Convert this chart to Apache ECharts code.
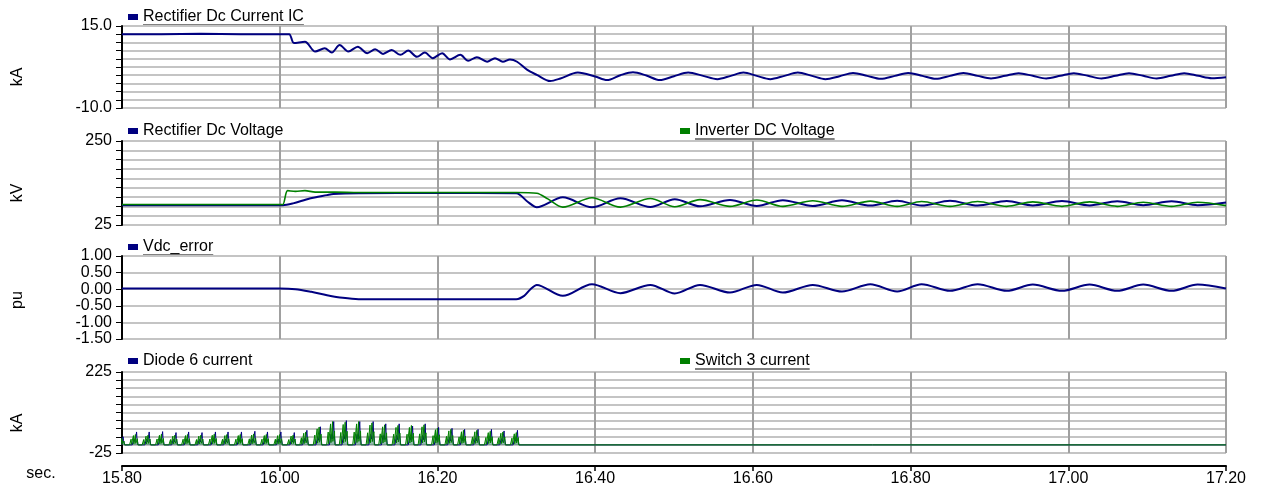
<!DOCTYPE html>
<html><head><meta charset="utf-8">
<script src="https://cdn.jsdelivr.net/npm/echarts@6/dist/echarts.min.js"></script>
<style>html,body{margin:0;padding:0;background:#fff}#c{width:1264px;height:488px}</style>
</head><body><div id="c"></div>
<script>
// ---------- data ----------
const xTickLabels = ['15.80','16.00','16.20','16.40','16.60','16.80','17.00','17.20'];

const icT = [15.80,15.85,15.90,15.95,16.00,16.012,16.018,16.032,16.045,16.057,16.066,16.076,16.087,16.099,16.111,16.121,16.131,16.142,16.153,16.163,16.174,16.184,16.194,16.206,16.216,16.229,16.239,16.250,16.263,16.273,16.283,16.292,16.301,16.314,16.326,16.343,16.356,16.378,16.400,16.415,16.432,16.448,16.465,16.482,16.500,16.518,16.537,16.555,16.572,16.588,16.605,16.622,16.640,16.657,16.675,16.692,16.710,16.727,16.745,16.762,16.780,16.797,16.815,16.832,16.850,16.867,16.885,16.902,16.920,16.937,16.955,16.972,16.990,17.007,17.025,17.042,17.060,17.077,17.095,17.112,17.130,17.147,17.165,17.182,17.200];
const icV = [12.5,12.5,12.6,12.5,12.5,12.5,9.8,10.2,7.2,8.2,6.9,9.2,7.2,8.7,6.7,7.9,6.5,7.7,6.2,7.5,5.6,6.9,5.2,6.7,4.8,6.2,4.4,5.5,4.1,5.2,4.1,4.8,4.1,1.6,0.1,-1.8,-1.0,0.8,-0.4,-1.5,0.0,0.9,-0.1,-1.5,-0.3,0.8,-0.2,-1.2,-0.2,0.8,-0.2,-1.2,-0.2,0.8,-0.2,-1.2,-0.3,0.7,-0.2,-1.1,-0.2,0.7,-0.2,-1.1,-0.2,0.7,-0.2,-1.0,-0.2,0.6,-0.2,-1.0,-0.2,0.6,-0.2,-1.0,-0.2,0.6,-0.2,-1.0,-0.2,0.6,-0.2,-0.9,-0.6];

const rvT = [15.80,16.000,16.004,16.017,16.038,16.060,16.068,16.10,16.20,16.300,16.314,16.326,16.359,16.396,16.432,16.470,16.501,16.533,16.571,16.605,16.638,16.676,16.713,16.749,16.783,16.814,16.850,16.885,16.922,16.955,16.992,17.027,17.062,17.095,17.131,17.164,17.200];
const rvV = [78,78,78,83,96,105,108,110,110.5,110,88,72.5,99,72.5,96.5,73,94,75,92,76,91.5,76,91,77,90,77,90,77,89,77.5,89,77.5,88.5,78,88.5,78,85];

const ivT = [15.80,16.000,16.004,16.010,16.020,16.032,16.045,16.070,16.10,16.300,16.326,16.340,16.359,16.396,16.432,16.470,16.501,16.533,16.571,16.605,16.638,16.676,16.713,16.749,16.783,16.814,16.850,16.885,16.922,16.955,16.992,17.027,17.062,17.095,17.131,17.164,17.200];
const ivV = [80,80,80,117,115,117,113,113,112,112,110,95,73,98,73,96,74,93,75,92,75,90,75,89,75,88,75,88,75,87,75,87,75,86,75,86,77];

const veT = [15.80,15.90,16.00,16.02,16.04,16.06,16.08,16.10,16.20,16.300,16.310,16.318,16.326,16.359,16.396,16.432,16.470,16.501,16.533,16.571,16.605,16.638,16.676,16.713,16.749,16.783,16.814,16.850,16.885,16.922,16.955,16.992,17.027,17.062,17.095,17.131,17.164,17.200];
const veV = [0.02,0.02,0.02,0.0,-0.08,-0.18,-0.26,-0.3,-0.3,-0.3,-0.2,0.0,0.13,-0.2,0.15,-0.12,0.13,-0.13,0.13,-0.1,0.13,-0.1,0.13,-0.07,0.15,-0.07,0.15,-0.05,0.15,-0.05,0.14,-0.05,0.14,-0.05,0.14,-0.05,0.14,0.02];

const pulseT = [15.800,15.817,15.833,15.850,15.867,15.883,15.900,15.917,15.933,15.950,15.967,15.983,16.000,16.017,16.033,16.050,16.067,16.083,16.100,16.117,16.133,16.150,16.167,16.183,16.200,16.217,16.233,16.250,16.267,16.283,16.300];
const diodePk = [25,40,40,41,38,40,38,40,40,40,42,40,40,38,45,56,72,75,72,72,65,65,58,65,54,51,48,48,48,43,45];
const switchPk = [20,32,30,33,30,32,30,33,32,32,34,32,32,30,40,55,72,70,72,68,62,60,60,62,52,48,45,45,42,40,38];

// ---------- helpers ----------
const FONT = '"Liberation Sans", Arial, sans-serif';
const FS = 16;
const NAVY = '#000080', GREEN = '#008000';
const pairs = (ts, vs) => ts.map((t, i) => [t, vs[i]]);
function pulses(ts, pk, shape) {
  const out = [];
  ts.forEach((t, i) => { shape.forEach(s => out.push([t + s[0], pk[i] * s[1]])); });
  out.push([17.2, 0]);
  return out;
}
const gridBox = [
  {left: 122, top: 26, width: 1104, height: 82},
  {left: 122, top: 141, width: 1104, height: 84},
  {left: 122, top: 256, width: 1104, height: 83},
  {left: 122, top: 372, width: 1104, height: 81}
];
const yCfg = [
  {min: -10, max: 15, interval: 2.5, dec: 1, ends: true},
  {min: 25, max: 250, interval: 25, dec: 0, ends: true},
  {min: -1.5, max: 1, interval: 0.5, dec: 2, ends: false},
  {min: -25, max: 225, interval: 25, dec: 0, ends: true}
];
const xAxes = gridBox.map((g, i) => ({
  type: 'value', gridIndex: i, min: 15.8, max: 17.2, interval: 0.2,
  offset: i === 3 ? 13 : 0,
  axisLine: {show: i === 3, onZero: false, lineStyle: {color: '#000', width: 2}},
  axisTick: {show: i === 3, length: 5, lineStyle: {color: '#000', width: 1.5}},
  axisLabel: {show: i === 3, margin: 5, fontSize: FS, fontFamily: FONT, color: '#000',
    formatter: v => xTickLabels[Math.round((v - 15.8) / 0.2)] || ''},
  splitLine: {show: true, lineStyle: {color: '#a0a0a0', width: 2}}
}));
const yAxes = yCfg.map((c, i) => ({
  type: 'value', gridIndex: i, min: c.min, max: c.max, interval: c.interval,
  axisLine: {show: true, onZero: false, lineStyle: {color: '#000', width: 2}},
  axisTick: {show: true, length: 6, lineStyle: {color: '#000', width: 1}},
  axisLabel: {margin: 10, fontSize: FS, fontFamily: FONT, color: '#000',
    formatter: v => {
      if (!c.ends || Math.abs(v - c.min) < 1e-9 || Math.abs(v - c.max) < 1e-9) return v.toFixed(c.dec);
      return '';
    }},
  splitLine: {show: true, lineStyle: {color: '#c4c4c4', width: 2}}
}));

const legendCommon = {padding: 0, itemWidth: 10, itemHeight: 6, icon: 'rect', selectedMode: false,
  textStyle: {fontSize: FS, fontFamily: FONT, color: '#000'}};
const legends = [
  ['Rectifier Dc Current IC', 128, 9],
  ['Rectifier Dc Voltage', 128, 123],
  ['Inverter DC Voltage', 680, 123],
  ['Vdc_error', 128, 239],
  ['Diode 6 current', 128, 353],
  ['Switch 3 current', 680, 353]
].map(([n, l, t]) => Object.assign({}, legendCommon, {data: [n], left: l, top: t}));

// underlines for some legend texts
const mctx = document.createElement('canvas').getContext('2d');
mctx.font = FS + 'px ' + FONT;
const underlined = [['Rectifier Dc Current IC', 128, 9], ['Inverter DC Voltage', 680, 123], ['Vdc_error', 128, 239], ['Switch 3 current', 680, 353]];
const graphics = underlined.map(([n, l, t]) => {
  const w = mctx.measureText(n).width;
  return {type: 'line', silent: true, shape: {x1: l + 15, y1: t + 16, x2: l + 15 + w, y2: t + 16}, style: {stroke: '#000', lineWidth: 1}};
});
[['kA', 18, 77], ['kV', 18, 193], ['pu', 18, 300], ['kA', 18, 423]].forEach(([s, x, y]) => {
  graphics.push({type: 'text', x: x, y: y, rotation: Math.PI / 2, silent: true,
    style: {text: s, font: FS + 'px ' + FONT, fill: '#000', align: 'center', verticalAlign: 'middle'}});
});
graphics.push({type: 'text', x: 41, y: 474, silent: true,
  style: {text: 'sec.', font: FS + 'px ' + FONT, fill: '#000', align: 'center', verticalAlign: 'middle'}});

const lineBase = {type: 'line', showSymbol: false, symbol: 'none', animation: false};
const series = [
  Object.assign({}, lineBase, {name: 'Rectifier Dc Current IC', xAxisIndex: 0, yAxisIndex: 0, smooth: 0.3,
    data: pairs(icT, icV), color: NAVY, lineStyle: {color: NAVY, width: 2}}),
  Object.assign({}, lineBase, {name: 'Rectifier Dc Voltage', xAxisIndex: 1, yAxisIndex: 1, smooth: 0.3,
    data: pairs(rvT, rvV), color: NAVY, lineStyle: {color: NAVY, width: 2}}),
  Object.assign({}, lineBase, {name: 'Inverter DC Voltage', xAxisIndex: 1, yAxisIndex: 1, smooth: 0.3,
    data: pairs(ivT, ivV), color: GREEN, lineStyle: {color: GREEN, width: 1.6}}),
  Object.assign({}, lineBase, {name: 'Vdc_error', xAxisIndex: 2, yAxisIndex: 2, smooth: 0.3,
    data: pairs(veT, veV), color: NAVY, lineStyle: {color: NAVY, width: 2}}),
  Object.assign({}, lineBase, {name: 'Diode 6 current', xAxisIndex: 3, yAxisIndex: 3,
    data: pulses(pulseT, diodePk, [[-0.004, 0], [-0.002, 0.45], [-0.0005, 0.25], [0.0015, 1], [0.002, 0.5], [0.0035, 0]]),
    color: NAVY, lineStyle: {color: NAVY, width: 1}, areaStyle: {color: 'rgba(90,90,210,0.45)'}}),
  Object.assign({}, lineBase, {name: 'Switch 3 current', xAxisIndex: 3, yAxisIndex: 3,
    data: pulses(pulseT, switchPk, [[-0.0075, 0], [-0.0055, 0.55], [-0.005, 0.05], [-0.0025, 0.9], [-0.002, 0.1], [0.0, 1], [0.0004, 0.15], [0.0025, 0.6], [0.003, 0]]),
    color: GREEN, lineStyle: {color: GREEN, width: 1}, areaStyle: {color: 'rgba(0,140,0,0.4)'}})
];

const chart = echarts.init(document.getElementById('c'), null, {renderer: 'canvas'});
chart.setOption({
  animation: false,
  backgroundColor: '#fff',
  grid: gridBox.map(g => Object.assign({show: true, borderColor: '#a8a8a8', borderWidth: 1}, g)),
  xAxis: xAxes,
  yAxis: yAxes,
  legend: legends,
  graphic: graphics,
  series: series
});
</script></body></html>
